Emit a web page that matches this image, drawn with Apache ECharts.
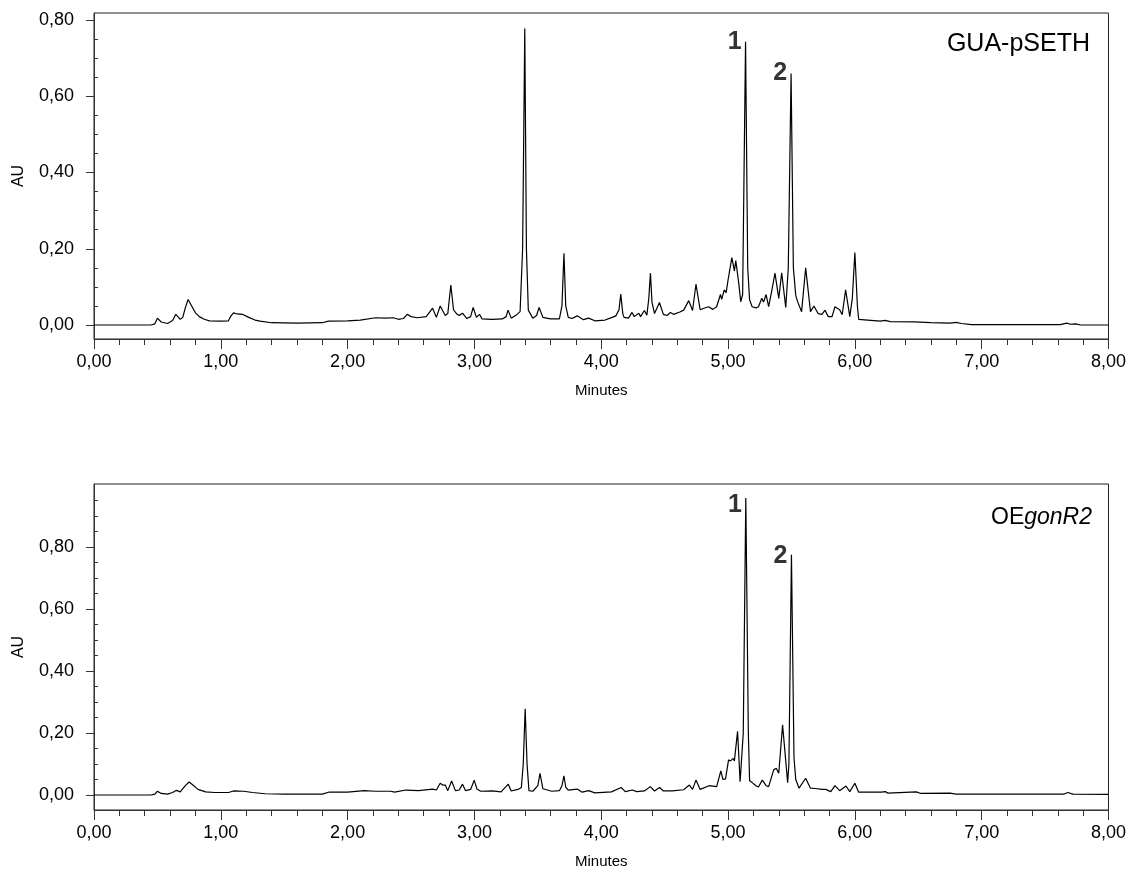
<!DOCTYPE html>
<html>
<head>
<meta charset="utf-8">
<script src="https://cdn.jsdelivr.net/npm/echarts@6/dist/echarts.min.js"></script>
<style>
html,body{margin:0;padding:0;background:#fff;}
#chart{width:1129px;height:872px;}
</style>
</head>
<body>
<div id="chart"></div>
<script>
// ---- Data ----
const xTicks = [0, 1, 2, 3, 4, 5, 6, 7, 8];
const yTicks = [0, 0.2, 0.4, 0.6, 0.8];
const yMinorTop = [0.05, 0.1, 0.15, 0.25, 0.3, 0.35, 0.45, 0.5, 0.55, 0.65, 0.7, 0.75];
const yMinorBottom = [0.05, 0.1, 0.15, 0.25, 0.3, 0.35, 0.45, 0.5, 0.55, 0.65, 0.7, 0.75, 0.85, 0.9, 0.95];

const topTimes = [0.00,0.45,0.48,0.50,0.53,0.58,0.62,0.645,0.68,0.70,0.72,0.742,0.77,0.80,0.83,0.87,0.91,1.00,1.06,1.08,1.10,1.13,1.17,1.22,1.27,1.31,1.40,1.60,1.80,1.85,2.00,2.10,2.22,2.30,2.36,2.40,2.44,2.47,2.50,2.55,2.62,2.67,2.70,2.73,2.77,2.79,2.814,2.835,2.86,2.88,2.906,2.94,2.97,2.99,3.016,3.04,3.06,3.14,3.22,3.25,3.265,3.29,3.33,3.36,3.38,3.397,3.41,3.425,3.46,3.49,3.51,3.54,3.60,3.67,3.69,3.706,3.72,3.74,3.77,3.81,3.86,3.90,3.95,4.03,4.086,4.115,4.14,4.154,4.17,4.18,4.215,4.243,4.26,4.296,4.31,4.34,4.36,4.375,4.388,4.40,4.42,4.459,4.49,4.52,4.545,4.57,4.62,4.65,4.69,4.72,4.747,4.78,4.81,4.847,4.88,4.91,4.94,4.95,4.97,4.985,5.00,5.01,5.03,5.05,5.061,5.085,5.10,5.115,5.138,5.155,5.17,5.19,5.22,5.24,5.266,5.28,5.30,5.32,5.345,5.37,5.40,5.423,5.455,5.475,5.497,5.515,5.534,5.55,5.58,5.612,5.65,5.677,5.71,5.74,5.765,5.79,5.82,5.843,5.88,5.90,5.927,5.96,5.98,6.00,6.02,6.03,6.10,6.20,6.237,6.28,6.47,6.60,6.75,6.80,6.84,6.92,7.30,7.62,7.67,7.70,7.74,7.78,8.00];
const topValues = [0.000,0.000,0.003,0.018,0.008,0.004,0.012,0.028,0.015,0.020,0.045,0.067,0.050,0.032,0.022,0.015,0.011,0.010,0.011,0.024,0.032,0.029,0.028,0.020,0.013,0.010,0.006,0.005,0.006,0.010,0.011,0.013,0.019,0.018,0.019,0.015,0.017,0.028,0.022,0.019,0.022,0.044,0.020,0.050,0.025,0.030,0.105,0.040,0.029,0.025,0.031,0.017,0.022,0.046,0.020,0.028,0.016,0.015,0.016,0.022,0.039,0.018,0.026,0.035,0.200,0.778,0.200,0.039,0.018,0.025,0.046,0.020,0.016,0.016,0.050,0.188,0.050,0.020,0.017,0.024,0.014,0.018,0.011,0.013,0.020,0.024,0.040,0.081,0.030,0.020,0.018,0.033,0.022,0.031,0.022,0.038,0.026,0.070,0.136,0.060,0.030,0.059,0.028,0.025,0.033,0.028,0.034,0.039,0.064,0.038,0.107,0.040,0.044,0.048,0.041,0.048,0.080,0.067,0.092,0.085,0.118,0.114,0.177,0.142,0.169,0.108,0.061,0.080,0.743,0.150,0.066,0.048,0.045,0.048,0.070,0.060,0.080,0.048,0.090,0.136,0.070,0.137,0.046,0.150,0.660,0.150,0.077,0.060,0.035,0.150,0.035,0.050,0.030,0.028,0.039,0.022,0.022,0.048,0.040,0.027,0.092,0.022,0.070,0.190,0.050,0.015,0.013,0.010,0.012,0.009,0.008,0.006,0.005,0.007,0.004,0.001,0.001,0.001,0.005,0.002,0.003,0.000,0.000];

const bottomTimes = [0.00,0.45,0.48,0.50,0.53,0.58,0.62,0.65,0.68,0.72,0.75,0.78,0.82,0.88,0.95,1.06,1.10,1.18,1.25,1.35,1.50,1.80,1.85,2.00,2.13,2.22,2.34,2.37,2.46,2.56,2.67,2.70,2.73,2.75,2.77,2.79,2.82,2.85,2.88,2.906,2.93,2.97,2.998,3.02,3.05,3.14,3.21,3.267,3.29,3.35,3.37,3.385,3.40,3.415,3.43,3.46,3.50,3.517,3.54,3.55,3.61,3.67,3.69,3.706,3.72,3.74,3.81,3.85,3.90,3.95,4.08,4.157,4.19,4.245,4.28,4.34,4.387,4.42,4.46,4.49,4.56,4.65,4.695,4.72,4.747,4.78,4.85,4.91,4.943,4.96,4.98,5.004,5.02,5.04,5.05,5.075,5.095,5.105,5.12,5.14,5.16,5.17,5.19,5.22,5.24,5.27,5.30,5.32,5.36,5.38,5.40,5.43,5.47,5.48,5.50,5.52,5.534,5.56,5.612,5.65,5.69,5.74,5.77,5.81,5.843,5.88,5.93,5.96,6.00,6.03,6.21,6.24,6.26,6.485,6.52,6.75,6.80,7.00,7.65,7.68,7.72,8.00];
const bottomValues = [0.000,0.000,0.003,0.012,0.005,0.003,0.008,0.015,0.010,0.030,0.042,0.032,0.018,0.010,0.008,0.008,0.013,0.012,0.008,0.004,0.003,0.003,0.009,0.009,0.014,0.012,0.012,0.009,0.016,0.014,0.019,0.016,0.038,0.032,0.032,0.014,0.045,0.014,0.016,0.035,0.014,0.018,0.048,0.019,0.012,0.013,0.010,0.035,0.013,0.019,0.024,0.100,0.278,0.100,0.014,0.012,0.030,0.070,0.020,0.014,0.012,0.014,0.030,0.062,0.025,0.016,0.019,0.009,0.014,0.007,0.010,0.024,0.011,0.016,0.011,0.013,0.027,0.013,0.024,0.013,0.013,0.017,0.032,0.018,0.048,0.018,0.030,0.027,0.078,0.050,0.052,0.113,0.110,0.118,0.110,0.205,0.043,0.045,0.200,0.958,0.200,0.046,0.040,0.030,0.026,0.048,0.030,0.027,0.081,0.086,0.070,0.226,0.040,0.100,0.775,0.120,0.050,0.022,0.054,0.022,0.021,0.018,0.018,0.011,0.030,0.014,0.029,0.011,0.038,0.009,0.009,0.011,0.006,0.010,0.005,0.006,0.003,0.003,0.003,0.008,0.003,0.002];

const topPeakNames = ['1', '2'];
const topPeakTimes = [5.138, 5.497];
const topPeakValues = [0.743, 0.660];
const bottomPeakNames = ['1', '2'];
const bottomPeakTimes = [5.14, 5.50];
const bottomPeakValues = [0.958, 0.775];

const titleTop = 'GUA-pSETH';
const titleBottomPlain = 'OE';
const titleBottomItalic = 'gonR2';
const xName = 'Minutes';
const yName = 'AU';

// ---- Build ----
const FONT = 'Liberation Sans, Arial, sans-serif';
const fmt = v => v.toFixed(2).replace('.', ',');
const zip = (a, b) => a.map((t, i) => [t, b[i]]);

const grids = [
  {left: 94, top: 13, width: 1017, height: 326},
  {left: 94, top: 484, width: 1017, height: 326}
];
const yRanges = [[-0.0367, 0.8184], [-0.0484, 1.003]];
const minors = [yMinorTop, yMinorBottom];
const labelOffsets = [[[0, 0], [0, 0]], [[0, 7], [0, 1]]];

const xAxes = [], yAxes = [];
grids.forEach((g, i) => {
  xAxes.push({
    type: 'value', gridIndex: i, min: 0, max: 8, interval: 1,
    name: xName, nameLocation: 'middle', nameGap: 44,
    nameTextStyle: {fontFamily: FONT, fontSize: 15, color: '#000'},
    axisLine: {show: true, onZero: false, lineStyle: {color: '#333', width: 1}},
    axisTick: {show: true, inside: false, length: 10, lineStyle: {color: '#333'}},
    minorTick: {show: true, splitNumber: 5, length: 6, lineStyle: {color: '#333'}},
    axisLabel: {fontFamily: FONT, fontSize: 18, color: '#000', margin: 14,
      formatter: v => xTicks.includes(v) ? fmt(v) : ''},
    splitLine: {show: false}, minorSplitLine: {show: false}
  });
  yAxes.push({
    type: 'value', gridIndex: i, min: yRanges[i][0], max: yRanges[i][1],
    name: yName, nameLocation: 'middle', nameGap: 67, nameRotate: 90,
    nameTextStyle: {fontFamily: FONT, fontSize: 16, color: '#000'},
    axisLine: {show: true, onZero: false, lineStyle: {color: '#333', width: 1}},
    axisTick: {show: true, inside: false, length: 8, customValues: yTicks, lineStyle: {color: '#333'}},
    axisLabel: {fontFamily: FONT, fontSize: 18, color: '#000', margin: 20,
      customValues: yTicks, formatter: v => fmt(v)},
    splitLine: {show: false}
  });
  yAxes.push({
    type: 'value', gridIndex: i, min: yRanges[i][0], max: yRanges[i][1],
    axisLine: {show: false},
    axisTick: {show: true, inside: false, length: 4, customValues: minors[i], lineStyle: {color: '#333'}},
    axisLabel: {show: false},
    splitLine: {show: false}
  });
});

const peakLabelSeries = (names, times, values, idx) => ({
  type: 'scatter', xAxisIndex: idx, yAxisIndex: idx * 2,
  symbolSize: 0, silent: true,
  data: times.map((t, k) => ({value: [t, values[k]], name: names[k],
    label: {offset: labelOffsets[idx][k]}})),
  label: {show: true, position: 'left', distance: 4, formatter: p => p.name,
    fontFamily: FONT, fontSize: 25, fontWeight: 'bold', color: '#000'},
  z: 5
});

const option = {
  animation: false,
  backgroundColor: '#fff',
  grid: grids.map(g => Object.assign({show: true, borderColor: '#222', borderWidth: 1, backgroundColor: 'transparent'}, g)),
  xAxis: xAxes,
  yAxis: yAxes,
  series: [
    {type: 'line', xAxisIndex: 0, yAxisIndex: 0, data: zip(topTimes, topValues),
      showSymbol: false, symbol: 'none', lineStyle: {color: '#000', width: 1.2}, z: 3},
    {type: 'line', xAxisIndex: 1, yAxisIndex: 2, data: zip(bottomTimes, bottomValues),
      showSymbol: false, symbol: 'none', lineStyle: {color: '#000', width: 1.2}, z: 3},
    peakLabelSeries(topPeakNames, topPeakTimes, topPeakValues, 0),
    peakLabelSeries(bottomPeakNames, bottomPeakTimes, bottomPeakValues, 1)
  ],
  graphic: [
    {type: 'text', right: 39, top: 32, style: {text: titleTop, font: '25px ' + FONT, fill: '#000'}},
    {type: 'text', right: 37, top: 506, style: {
      text: '{a|' + titleBottomPlain + '}{b|' + titleBottomItalic + '}',
      rich: {a: {font: '23px ' + FONT, fill: '#000'}, b: {font: 'italic 23px ' + FONT, fill: '#000'}}
    }}
  ]
};

const chart = echarts.init(document.getElementById('chart'), null, {renderer: 'canvas'});
chart.setOption(option);
</script>
</body>
</html>
